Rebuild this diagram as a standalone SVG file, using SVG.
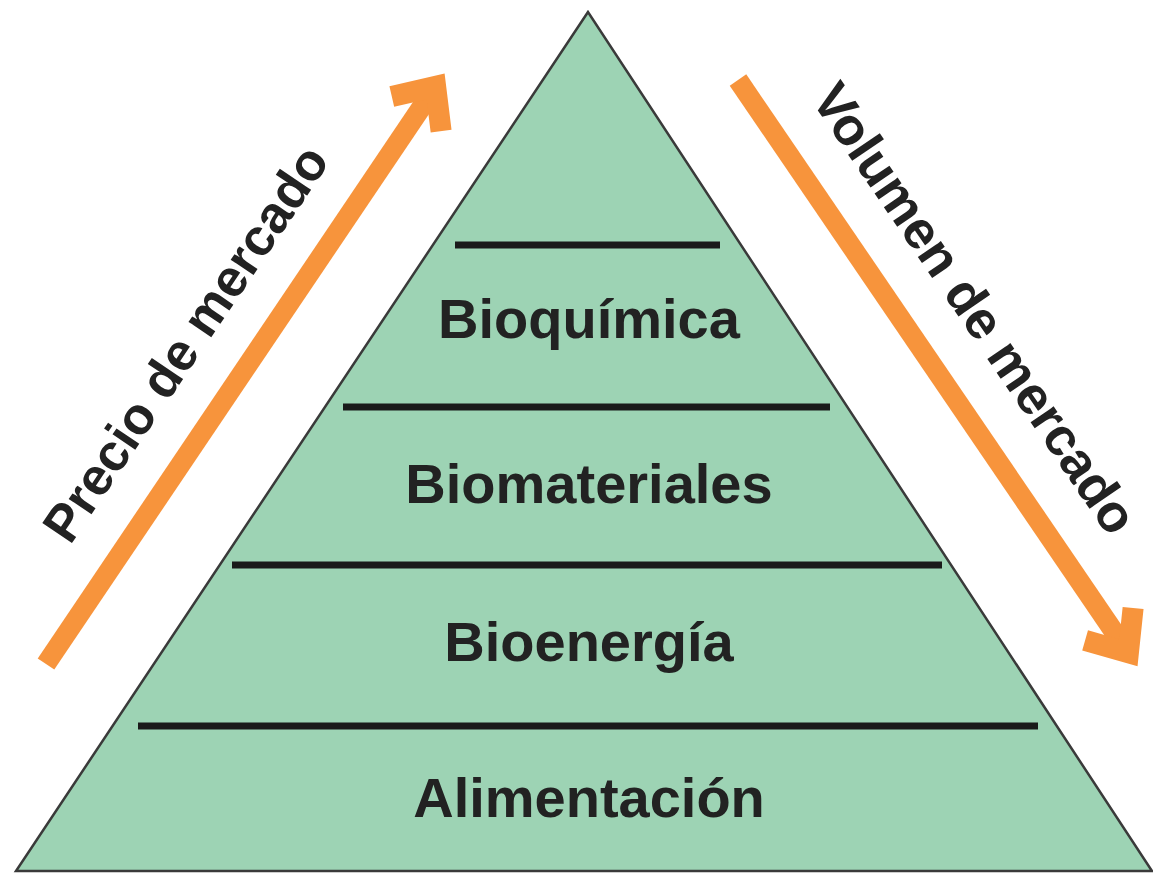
<svg xmlns="http://www.w3.org/2000/svg" width="1153" height="875" viewBox="0 0 1153 875">
<style>
.tier{font-family:"Liberation Sans",Arial,sans-serif;font-weight:bold;font-size:56px;fill:#222;text-anchor:middle}
.side{font-family:"Liberation Sans",Arial,sans-serif;font-weight:bold;fill:#222}
.div{stroke:#1a1a1a;stroke-width:7;fill:none}
.arr{stroke:#f7943c;stroke-width:20;fill:none;stroke-linejoin:miter;stroke-miterlimit:10}
.head{stroke:#f7943c;stroke-width:21;fill:none;stroke-linejoin:miter;stroke-miterlimit:10}
</style>
<rect x="0" y="0" width="1153" height="875" fill="#ffffff"/>
<g id="pyramid">
<polygon points="588,12 16,871 1152,871" fill="#9dd3b4" stroke="#3a3a3a" stroke-width="2.5" stroke-linejoin="miter"/>
</g>
<g id="dividers">
<line class="div" x1="455" y1="245" x2="720" y2="245"/>
<line class="div" x1="343" y1="407" x2="830" y2="407"/>
<line class="div" x1="232" y1="565" x2="942" y2="565"/>
<line class="div" x1="138" y1="726" x2="1038" y2="726"/>
</g>
<g id="tier-bioquimica"><text class="tier" x="589" y="338">Bioquímica</text></g>
<g id="tier-biomateriales"><text class="tier" x="589" y="503">Biomateriales</text></g>
<g id="tier-bioenergia"><text class="tier" x="589" y="661">Bioenergía</text></g>
<g id="tier-alimentacion"><text class="tier" x="589" y="817">Alimentación</text></g>
<g id="connectors">
<g id="arrow-precio">
<line class="arr" x1="46" y1="664" x2="435.6" y2="86.4"/>
<polyline class="head" points="391.8,96.5 435.6,86.4 441.1,131.1"/>
</g>
<g id="arrow-volumen">
<line class="arr" x1="738" y1="80" x2="1128.4" y2="652.8"/>
<polyline class="head" points="1085.1,640.4 1128.4,652.8 1133.1,608"/>
</g>
</g>
<g id="label-precio"><text class="side" font-size="52" transform="translate(70,546) rotate(-55.9)">Precio de mercado</text></g>
<g id="label-volumen"><text class="side" font-size="53" transform="translate(810,99) rotate(55.7)">Volumen de mercado</text></g>
</svg>
